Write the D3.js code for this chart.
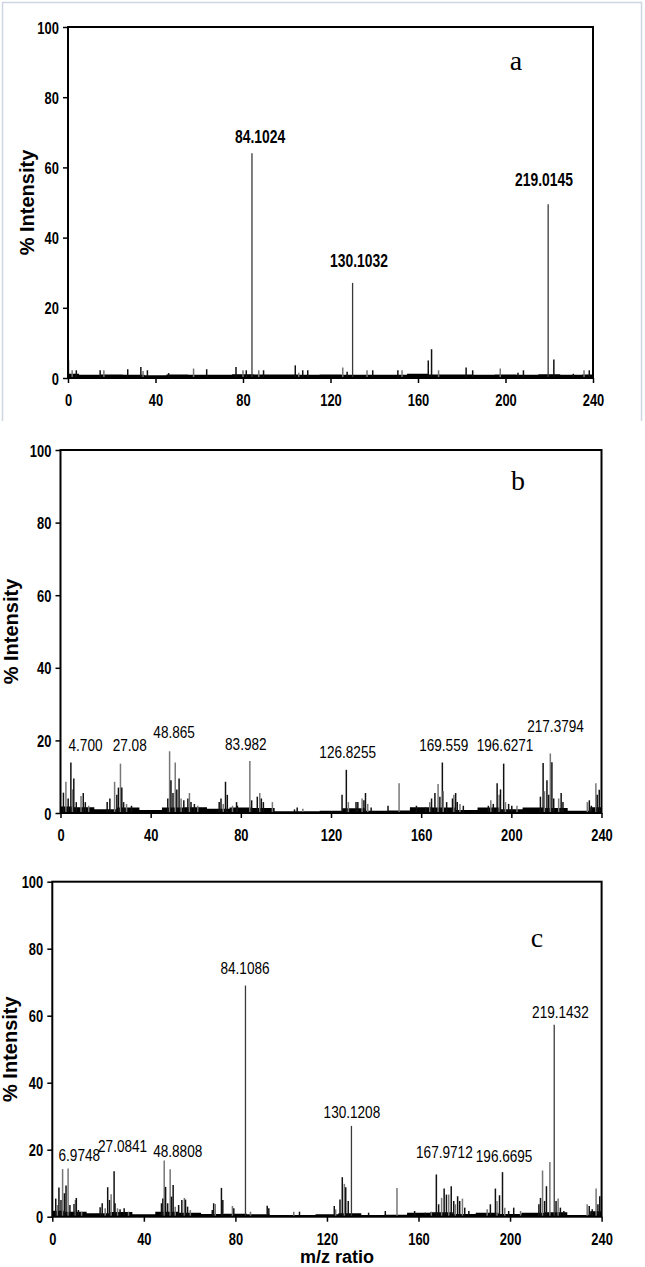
<!DOCTYPE html>
<html><head><meta charset="utf-8">
<script src="https://cdn.jsdelivr.net/npm/d3@7"></script>
<style>
html,body{margin:0;padding:0;background:#fff;}
svg{display:block;}
</style></head>
<body>
<script>
// ---------- data ----------
const xTicks = [0, 40, 80, 120, 160, 200, 240];
const yTicks = [0, 20, 40, 60, 80, 100];
const panelLetters = ["a", "b", "c"];
const yTitle = "% Intensity";
const xTitle = "m/z ratio";

// panel a peaks
const mzA  = [0.2, 1.9, 3.8, 14.7, 16.4, 27.3, 33.3, 34.3, 36.3, 46, 57.4, 63.4, 76.8, 80, 81.5, 84.1, 87.2, 89.4, 103.9, 105.5, 107.3, 109.6, 125.6, 127.6, 130.1, 136.7, 139.3, 150.8, 152.7, 164.7, 166.2, 169.4, 182, 185, 197.6, 205.7, 208.2, 219.5, 222.1, 231, 235.9, 238.3];
const intA = [5.0, 2.2, 2.2, 2.2, 2.2, 2.5, 3.1, 2.0, 2.2, 1.4, 2.7, 2.5, 3.1, 2.2, 2.2, 64.0, 2.2, 2.2, 3.6, 1.5, 2.2, 2.2, 3.0, 1.8, 27.1, 2.2, 2.2, 2.2, 2.2, 5.0, 8.2, 2.2, 3.0, 2.2, 2.7, 1.5, 2.2, 49.5, 5.3, 1.2, 2.2, 2.2];
const baseA = [1.2, 0.9, 1.0, 0.9, 0.8, 1.0, 0.9, 0.9, 1.1, 1.0, 1.0, 0.9, 1.0, 0.9, 0.9, 0.9, 1.2, 1.0, 1.0, 0.9, 1.0, 0.9, 1.1, 0.9, 1.0];
const labTextA = ["84.1024", "130.1032", "219.0145"];
const labMzA   = [87.8, 133.0, 217.6];
const labIntA  = [68.9, 33.6, 56.7];

// panel b peaks
const mzB  = [1.3, 2.4, 3.4, 4.6, 5.3, 5.9, 7.0, 9.1, 10.1, 11.0, 12.5, 20.7, 21.9, 24.0, 25.0, 25.7, 26.6, 27.2, 28.0, 29.3, 31.5, 47.6, 48.4, 49.0, 49.9, 50.9, 51.6, 52.6, 53.5, 54.7, 56.5, 57.2, 57.9, 59.4, 60.9, 70.4, 71.2, 72.2, 73.2, 74.0, 76.3, 78.1, 78.5, 84.0, 84.8, 87.3, 88.4, 89.1, 90.0, 94.0, 103.8, 105.0, 107.5, 124.9, 126.8, 127.7, 131.1, 131.9, 133.8, 134.6, 135.3, 136.3, 137.8, 145.3, 150.2, 157.9, 162.0, 163.8, 164.6, 166.1, 167.5, 168.3, 169.4, 169.8, 171.3, 173.9, 174.5, 175.3, 176.0, 177.2, 178.7, 189.8, 190.9, 192.0, 193.7, 194.6, 195.2, 196.6, 197.4, 198.8, 200.2, 202.5, 212.9, 214.1, 214.7, 215.8, 216.6, 217.3, 218.0, 218.8, 221.0, 222.1, 222.9, 233.7, 234.6, 235.5, 237.5, 238.1, 239.0];
const intB = [5.6, 8.6, 4.0, 13.9, 6.5, 9.5, 3.0, 4.7, 5.5, 3.0, 2.0, 3.0, 4.0, 8.6, 5.0, 7.0, 13.6, 7.0, 3.0, 2.5, 2.0, 4.0, 17.0, 9.0, 5.5, 13.9, 6.5, 9.5, 4.0, 3.5, 4.0, 5.5, 3.0, 2.5, 2.0, 3.0, 4.0, 2.5, 8.6, 5.0, 2.0, 3.0, 2.0, 14.3, 3.5, 4.5, 5.5, 4.0, 3.0, 3.0, 1.0, 1.5, 1.2, 5.0, 11.9, 3.0, 3.0, 3.0, 4.0, 3.5, 5.5, 2.5, 1.5, 2.0, 8.2, 2.0, 1.5, 3.0, 4.0, 5.5, 8.0, 4.5, 13.9, 6.0, 3.0, 4.0, 5.0, 5.5, 3.0, 2.5, 2.0, 2.0, 3.5, 2.5, 8.2, 5.0, 6.5, 13.6, 3.0, 2.5, 2.0, 2.0, 4.5, 13.8, 6.0, 9.0, 5.0, 16.4, 14.0, 4.0, 4.0, 5.5, 3.0, 3.0, 3.5, 2.0, 8.2, 5.0, 6.4];
const baseB = [1.8, 1.6, 1.0, 1.5, 0.8, 1.5, 1.6, 1.2, 1.5, 1.4, 0.5, 0.5, 0.6, 1.3, 0.6, 0.7, 1.6, 1.5, 0.8, 1.5, 1.0, 1.5, 1.4, 0.6, 1.6];
const labTextB = ["4.700", "27.08", "48.865", "83.982", "126.8255", "169.559", "196.6271", "217.3794"];
const labMzB   = [11.1, 30.7, 50.4, 82.2, 127.4, 170.0, 197.2, 219.6];
const labIntB  = [18.7, 18.7, 22.4, 19.0, 16.9, 18.7, 18.7, 24.0];

// panel c peaks
const mzC  = [1.5, 2.2, 2.9, 3.8, 4.5, 5.3, 6.0, 6.9, 7.7, 9.5, 10.1, 10.5, 11.4, 12.8, 20.9, 21.8, 23.1, 24.2, 25.0, 25.7, 27.0, 27.4, 28.5, 29.6, 31.4, 33.3, 47.7, 48.3, 48.9, 49.5, 50.4, 51.5, 52.1, 52.8, 53.7, 55.2, 56.6, 57.7, 58.2, 59.1, 60.3, 69.9, 70.5, 71.2, 73.9, 74.5, 78.7, 79.3, 84.4, 86.6, 93.9, 94.6, 105.5, 108.0, 123.2, 123.8, 125.7, 126.7, 127.6, 128.2, 129.3, 130.7, 138.2, 145.5, 150.6, 158.3, 163.0, 165.6, 167.8, 168.8, 170.1, 171.2, 172.2, 173.2, 174.3, 175.4, 176.1, 177.1, 178.0, 179.2, 180.2, 182.0, 190.0, 191.4, 193.6, 194.3, 195.4, 196.7, 197.7, 199.4, 201.6, 204.6, 212.6, 213.3, 214.2, 215.1, 215.9, 217.4, 219.3, 220.1, 221.0, 222.0, 223.5, 233.7, 234.6, 235.9, 237.6, 238.4, 239.2];
const intC = [5.4, 3.5, 8.7, 5.0, 14.2, 7.0, 9.3, 14.4, 3.5, 3.8, 5.0, 5.6, 2.0, 1.5, 2.8, 4.0, 2.5, 8.8, 5.0, 6.7, 13.6, 4.0, 2.5, 2.2, 2.5, 1.5, 4.0, 5.4, 16.8, 8.9, 4.0, 14.2, 6.0, 9.5, 3.0, 3.5, 5.0, 5.6, 5.1, 3.0, 2.0, 2.0, 4.0, 3.8, 8.6, 5.0, 3.2, 2.5, 69.0, 1.5, 3.3, 2.5, 1.5, 1.5, 3.2, 2.2, 5.1, 11.8, 9.8, 8.8, 4.7, 27.1, 1.2, 1.7, 8.6, 1.7, 1.2, 1.5, 12.6, 3.7, 5.6, 8.4, 6.6, 6.6, 9.1, 4.7, 3.7, 6.1, 4.7, 5.4, 2.7, 1.7, 2.2, 3.7, 8.4, 4.7, 6.4, 13.3, 2.7, 1.7, 2.7, 1.7, 3.7, 5.6, 13.8, 4.7, 9.1, 16.3, 57.3, 4.7, 5.4, 2.7, 1.7, 3.7, 3.2, 2.2, 8.4, 3.7, 6.1];
const baseC = [1.8, 1.5, 1.0, 1.4, 0.7, 1.5, 1.2, 0.8, 0.9, 0.7, 0.5, 0.5, 0.7, 1.0, 0.5, 0.6, 1.2, 1.3, 0.8, 1.2, 0.8, 1.2, 1.3, 0.5, 1.6];
const labTextC = ["6.9748", "27.0841", "48.8808", "84.1086", "130.1208", "167.9712", "196.6695", "219.1432"];
const labMzC   = [11.8, 30.7, 54.8, 84.2, 130.9, 171.3, 197.4, 222.0];
const labIntC  = [18.4, 21.1, 19.7, 74.2, 31.3, 19.4, 18.1, 61.1];

// ---------- drawing ----------
const W = 645, H = 1267;
const SANS = "Liberation Sans, Arial, sans-serif";
const svg = d3.select("body").append("svg").attr("width", W).attr("height", H);

// light frame around the first panel (cut at its bottom)
svg.append("path")
  .attr("d", "M2.5,421 V2.5 H641.5 V421")
  .attr("fill", "none").attr("stroke", "#cdd6e0").attr("stroke-width", 1.5);

const panels = [
  {mz: mzA, int: intA, base: baseA, lt: labTextA, lm: labMzA, li: labIntA, letter: panelLetters[0],
   l: 68, r: 593, t: 27, b: 378, bold: true, titleX: 27, letterMz: 204.8, letterInt: 90.6, clipBottom: 421},
  {mz: mzB, int: intB, base: baseB, lt: labTextB, lm: labMzB, li: labIntB, letter: panelLetters[1],
   l: 60.5, r: 601.5, t: 450, b: 813, bold: false, titleX: 11, letterMz: 203, letterInt: 91.7},
  {mz: mzC, int: intC, base: baseC, lt: labTextC, lm: labMzC, li: labIntC, letter: panelLetters[2],
   l: 52.3, r: 601.6, t: 881.7, b: 1216.7, bold: false, titleX: 10, letterMz: 211.8, letterInt: 83.6, xTitle: true}
];

panels.forEach((p, i) => {
  const g = svg.append("g");
  const x = d3.scaleLinear().domain([0, 240]).range([p.l, p.r]);
  const y = d3.scaleLinear().domain([0, 100]).range([p.b, p.t]);

  // baseline noise band
  const baseMz = p.base.map((d, k) => k * 10);
  g.append("path")
    .datum(p.base.map((d, k) => [baseMz[k], d]))
    .attr("d", d3.area().curve(d3.curveStep).x(d => x(d[0])).y0(y(0)).y1(d => y(d[1])))
    .attr("fill", "#000");

  // peaks
  g.append("g").selectAll("line").data(p.mz).join("line")
    .attr("x1", d => x(d)).attr("x2", d => x(d))
    .attr("y1", y(0))
    .attr("y2", (d, k) => y(p.int[k]))
    .attr("stroke", (d, k) => p.int[k] > 20 ? "#3a3a3a" : (k % 3 === 1 ? "#777" : "#111"))
    .attr("stroke-width", (d, k) => p.int[k] > 20 ? 1.3 : 1.5);

  // frame
  g.append("rect").attr("x", p.l).attr("y", p.t).attr("width", p.r - p.l).attr("height", p.b - p.t)
    .attr("fill", "none").attr("stroke", "#000").attr("stroke-width", 2);

  // axes
  const ax = g.append("g").attr("transform", `translate(0,${p.b})`)
    .call(d3.axisBottom(x).tickValues(xTicks).tickSize(5).tickSizeOuter(0).tickFormat(d3.format("d")));
  const ay = g.append("g").attr("transform", `translate(${p.l},0)`)
    .call(d3.axisLeft(y).tickValues(yTicks).tickSize(5).tickSizeOuter(0).tickFormat(d3.format("d")));
  [ax, ay].forEach(a => {
    a.select(".domain").remove();
    a.selectAll("line").attr("stroke", "#000").attr("stroke-width", 1.5);
    a.selectAll("text").attr("font-family", SANS).attr("font-weight", "bold")
      .attr("font-size", 17).attr("fill", "#000").attr("transform", "scale(0.76,1)");
  });
  ax.selectAll("text").attr("dy", null).attr("y", 28);
  ay.selectAll("text").attr("x", -12).attr("dy", "0.36em");

  // y title
  g.append("text")
    .attr("transform", `translate(${p.titleX},${(p.t + p.b) / 2}) rotate(-90)`)
    .attr("text-anchor", "middle").attr("dy", "0.36em")
    .attr("font-family", SANS).attr("font-weight", "bold")
    .attr("font-size", 20).text(yTitle);

  // x title
  if (p.xTitle) {
    g.append("text")
      .attr("x", (p.l + p.r) / 2 + 10).attr("y", 1263)
      .attr("text-anchor", "middle")
      .attr("font-family", SANS).attr("font-weight", "bold")
      .attr("font-size", 18).text(xTitle);
  }
  if (p.clipBottom) {
    const cid = "clip" + i;
    svg.append("clipPath").attr("id", cid).append("rect")
      .attr("x", 0).attr("y", 0).attr("width", W).attr("height", p.clipBottom);
    g.append("g").attr("clip-path", `url(#${cid})`).append("text")
      .attr("x", (p.l + p.r) / 2 + 10).attr("y", p.b + 57)
      .attr("text-anchor", "middle")
      .attr("font-family", SANS).attr("font-weight", "bold")
      .attr("font-size", 18).text(xTitle);
  }

  // peak labels (condensed glyphs, as in the reference)
  g.append("g").selectAll("text").data(p.lt).join("text")
    .attr("transform", (d, k) => `translate(${x(p.lm[k])},${y(p.li[k])}) scale(${p.bold ? 0.73 : 0.8},1)`)
    .attr("dy", "0.36em")
    .attr("text-anchor", "middle")
    .attr("font-family", SANS)
    .attr("font-weight", p.bold ? "bold" : "normal")
    .attr("font-size", p.bold ? 19 : 17)
    .text(d => d);

  // panel letter
  g.append("text")
    .attr("x", x(p.letterMz)).attr("y", y(p.letterInt)).attr("dy", "0.36em")
    .attr("text-anchor", "middle")
    .attr("font-family", "Liberation Serif, Times New Roman, serif")
    .attr("font-size", 28).text(p.letter);
});
</script>
</body></html>
